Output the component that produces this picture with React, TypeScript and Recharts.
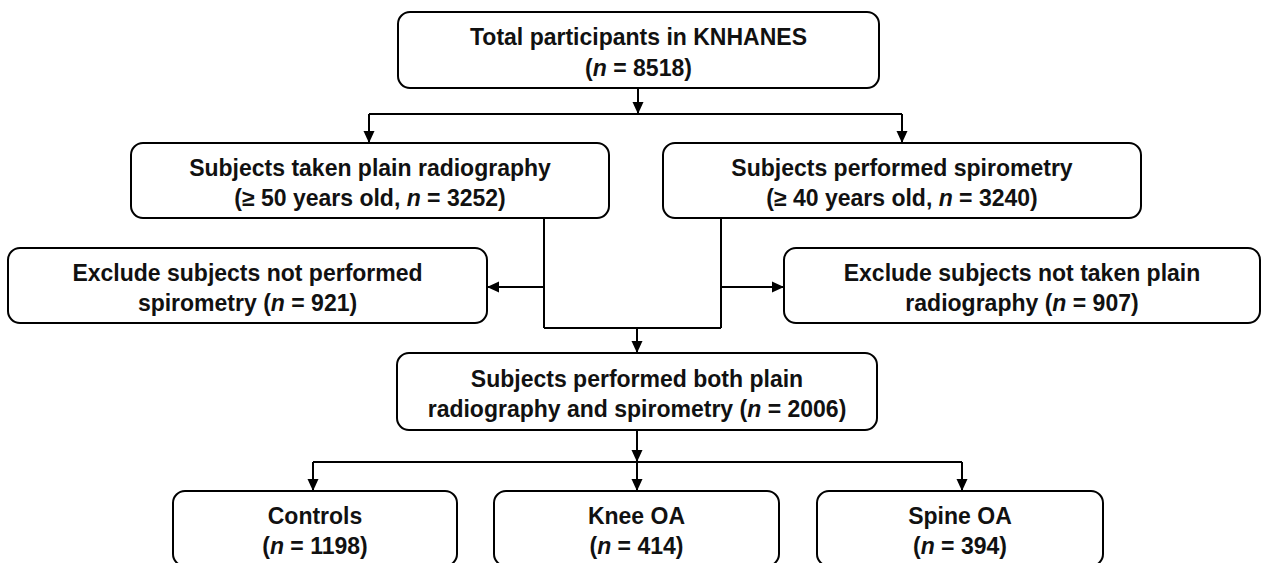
import { FC } from 'react';
import {
  ScatterChart,
  Scatter,
  XAxis,
  YAxis,
  ReferenceArea,
  ReferenceLine,
} from 'recharts';

// box captions, the italic n is added when the second line is drawn
const nodeTitles = [
  'Total participants in KNHANES',
  'Subjects taken plain radiography',
  'Subjects performed spirometry',
  'Exclude subjects not performed',
  'Exclude subjects not taken plain',
  'Subjects performed both plain',
  'Controls',
  'Knee OA',
  'Spine OA',
];

const nodeCounts = [8518, 3252, 3240, 921, 907, 2006, 1198, 414, 394];

const nodePrefixes = [
  '(',
  '(≥ 50 years old, ',
  '(≥ 40 years old, ',
  'spirometry (',
  'radiography (',
  'radiography and spirometry (',
  '(',
  '(',
  '(',
];

// flowchart layout in chart units (x1, x2, y1, y2)
const boxLayout = [
  [398, 879, 12, 88],
  [131, 609, 143, 218],
  [663, 1141, 143, 218],
  [8, 487, 248, 323],
  [784, 1260, 248, 323],
  [397, 877, 353, 430],
  [173, 457, 491, 566],
  [494, 779, 491, 566],
  [817, 1103, 491, 566],
];

const connectors = [
  [638, 88, 638, 114],
  [369, 114, 902, 114],
  [369, 114, 369, 142],
  [902, 114, 902, 142],
  [544, 218, 544, 328],
  [721, 218, 721, 328],
  [544, 328, 721, 328],
  [544, 287, 487, 287],
  [721, 287, 784, 287],
  [637, 328, 637, 353],
  [637, 430, 637, 462],
  [313, 462, 962, 462],
  [313, 462, 313, 490],
  [637, 462, 637, 490],
  [962, 462, 962, 490],
];

const arrowTips = [
  { x: 638, y: 114, dir: 'down' },
  { x: 369, y: 143, dir: 'down' },
  { x: 902, y: 143, dir: 'down' },
  { x: 487, y: 287, dir: 'left' },
  { x: 784, y: 287, dir: 'right' },
  { x: 637, y: 353, dir: 'down' },
  { x: 637, y: 462, dir: 'down' },
  { x: 313, y: 491, dir: 'down' },
  { x: 637, y: 491, dir: 'down' },
  { x: 962, y: 491, dir: 'down' },
];

const FONT = '"Liberation Sans", Arial, sans-serif';

const renderArrow = (props: any) => {
  const { cx, cy, payload } = props;
  const len = 12;
  const half = 5.5;
  let pts = '';
  if (payload.dir === 'down') {
    pts = `${cx},${cy} ${cx - half},${cy - len} ${cx + half},${cy - len}`;
  } else if (payload.dir === 'left') {
    pts = `${cx},${cy} ${cx + len},${cy - half} ${cx + len},${cy + half}`;
  } else {
    pts = `${cx},${cy} ${cx - len},${cy - half} ${cx - len},${cy + half}`;
  }
  return <polygon points={pts} fill="#000" />;
};

const makeBox = (i: number) => (props: any) => {
  const { x, y, width, height } = props;
  const cx = x + width / 2;
  const cy = y + height / 2;
  return (
    <g>
      <rect
        x={x}
        y={y}
        width={width}
        height={height}
        rx={12}
        ry={12}
        fill="#fff"
        stroke="#000"
        strokeWidth={2}
      />
      <text
        x={cx}
        y={cy - 5}
        textAnchor="middle"
        fontFamily={FONT}
        fontWeight="bold"
        fontSize={23}
        fill="#111"
      >
        {nodeTitles[i]}
      </text>
      <text
        x={cx}
        y={cy + 25.5}
        textAnchor="middle"
        fontFamily={FONT}
        fontWeight="bold"
        fontSize={23}
        fill="#111"
      >
        {nodePrefixes[i]}
        <tspan fontStyle="italic">n</tspan>
        {` = ${nodeCounts[i]})`}
      </text>
    </g>
  );
};

const App: FC = () => (
  <div style={{ position: 'absolute', left: 0, top: 0 }}>
    <ScatterChart
      width={1262}
      height={563}
      margin={{ top: 0, right: 0, left: 0, bottom: 0 }}
    >
      <XAxis type="number" dataKey="x" domain={[0, 1262]} hide />
      <YAxis type="number" dataKey="y" domain={[0, 563]} reversed hide />

      {connectors.map((c, i) => (
        <ReferenceLine
          key={`c${i}`}
          segment={[
            { x: c[0], y: c[1] },
            { x: c[2], y: c[3] },
          ]}
          stroke="#000"
          strokeWidth={2}
          ifOverflow="visible"
        />
      ))}

      {boxLayout.map((b, i) => (
        <ReferenceArea
          key={`b${i}`}
          x1={b[0]}
          x2={b[1]}
          y1={b[2]}
          y2={b[3]}
          ifOverflow="visible"
          shape={makeBox(i)}
        />
      ))}

      <Scatter data={arrowTips} shape={renderArrow} isAnimationActive={false} />
    </ScatterChart>
  </div>
);

export default App;
